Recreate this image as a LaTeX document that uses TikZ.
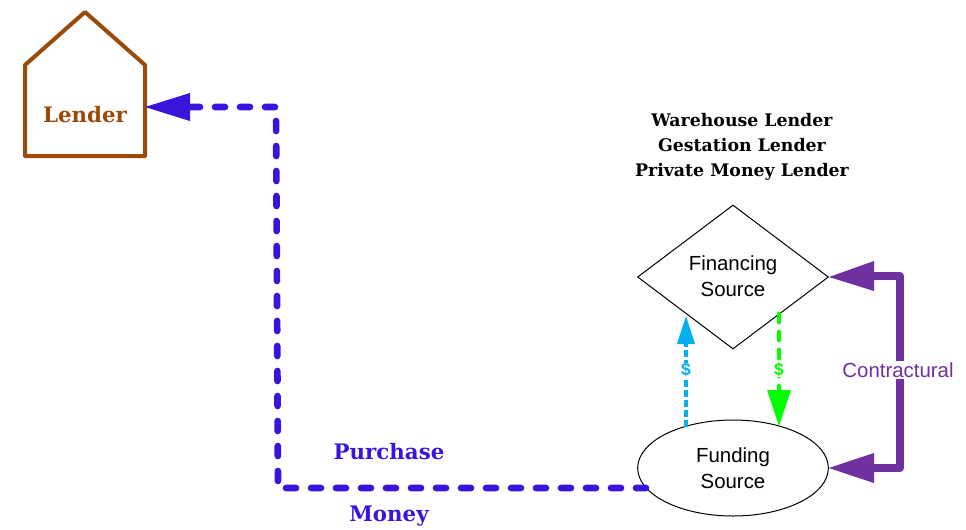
\documentclass[tikz,border=0pt]{standalone}
\usepackage{fontspec}
\setmainfont{Liberation Sans}
\newfontfamily\slabfont{DejaVu Serif}
\usetikzlibrary{arrows.meta,shapes.geometric}
\definecolor{lenderbrown}{HTML}{9C4A0A}
\definecolor{moneyblue}{HTML}{3B14DC}
\definecolor{cyanflow}{HTML}{00B0F0}
\definecolor{greenflow}{HTML}{00FF00}
\definecolor{contractpurple}{HTML}{7030A0}
\tikzset{
  headtext/.style={font=\slabfont\bfseries\fontsize{13pt}{19pt}\selectfont, align=center},
  plaintext/.style={font=\fontsize{15.3pt}{19.5pt}\selectfont, align=center},
  slabbig/.style={font=\slabfont\bfseries\fontsize{16pt}{18pt}\selectfont},
  purchase/.style={line width=5pt, moneyblue, line cap=round, dash pattern=on 7.5pt off 11.25pt},
  dollar/.style={font=\fontsize{13pt}{13pt}\selectfont\bfseries, inner sep=0.3pt, fill=white},
}
\begin{document}
\begin{tikzpicture}[x=0.75pt,y=-0.75pt]
\useasboundingbox (0,0) rectangle (966,529);

% house-shaped lender
\draw[lenderbrown, line width=3pt, line join=round]
  (25,156) -- (25,65) -- (85,12) -- (145,65) -- (145,156) -- cycle;
\node (lender) [slabbig, text=lenderbrown] at (85,115) {Lender};
\coordinate (lenderport) at (145,107);

% financing source and funding source
\node (fin) [diamond, draw, line width=0.75pt, minimum width=143.25pt, minimum height=108pt,
  inner sep=0pt] at (733,277) {};
\node (fintext) [plaintext] at (733,276) {Financing\\Source};

\node (fund) [ellipse, draw, line width=0.75pt, minimum width=143pt, minimum height=72pt,
  inner sep=0pt] at (733,468) {};
\node (fundtext) [plaintext] at (733,468) {Funding\\Source};

\node (heads) [headtext] at (742,147) {Warehouse Lender\\Gestation Lender\\Private Money Lender};

% purchase money route
\coordinate (c0) at (646,488);
\coordinate (c1) at (278,488);
\coordinate (c2) at (276,107);
\coordinate (bluebase) at (190,107);
\draw[purchase] (c0) -- (c1) -- (c2) -- (bluebase);
\fill[moneyblue] (lenderport) -- (190,93) -- (190,121) -- cycle;
\node (pur) [slabbig, text=moneyblue] at (389,452) {Purchase};
\node (mon) [slabbig, text=moneyblue] at (389,516) {Money};

% money flows between the sources
\draw[cyanflow, line width=2.3pt, dash pattern=on 5pt off 2.5pt]
  (686,427) -- (686,342);
\fill[cyanflow] (686,316) -- (677,344) -- (695,344) -- cycle;
\node[dollar, text=cyanflow] at (686,370) {\$};

\draw[greenflow, line width=3.6pt, line cap=round, dash pattern=on 6pt off 7.5pt]
  (779,314) -- (779,392);
\fill[greenflow] (779,426) -- (767,390) -- (791,390) -- cycle;
\node[dollar, text=greenflow] at (779,370) {\$};

% contractual link
\draw[contractpurple, line width=6pt, line join=round]
  (870,468) -- (900,468) -- (900,276) -- (870,276);
\fill[contractpurple] (fin.east) -- (874,261) -- (874,291) -- cycle;
\fill[contractpurple] (fund.east) -- (874,453) -- (874,483) -- cycle;
\node[plaintext, text=contractpurple, fill=white, inner sep=1pt] (ctr) at (898,370) {Contractural};
\end{tikzpicture}
\end{document}
